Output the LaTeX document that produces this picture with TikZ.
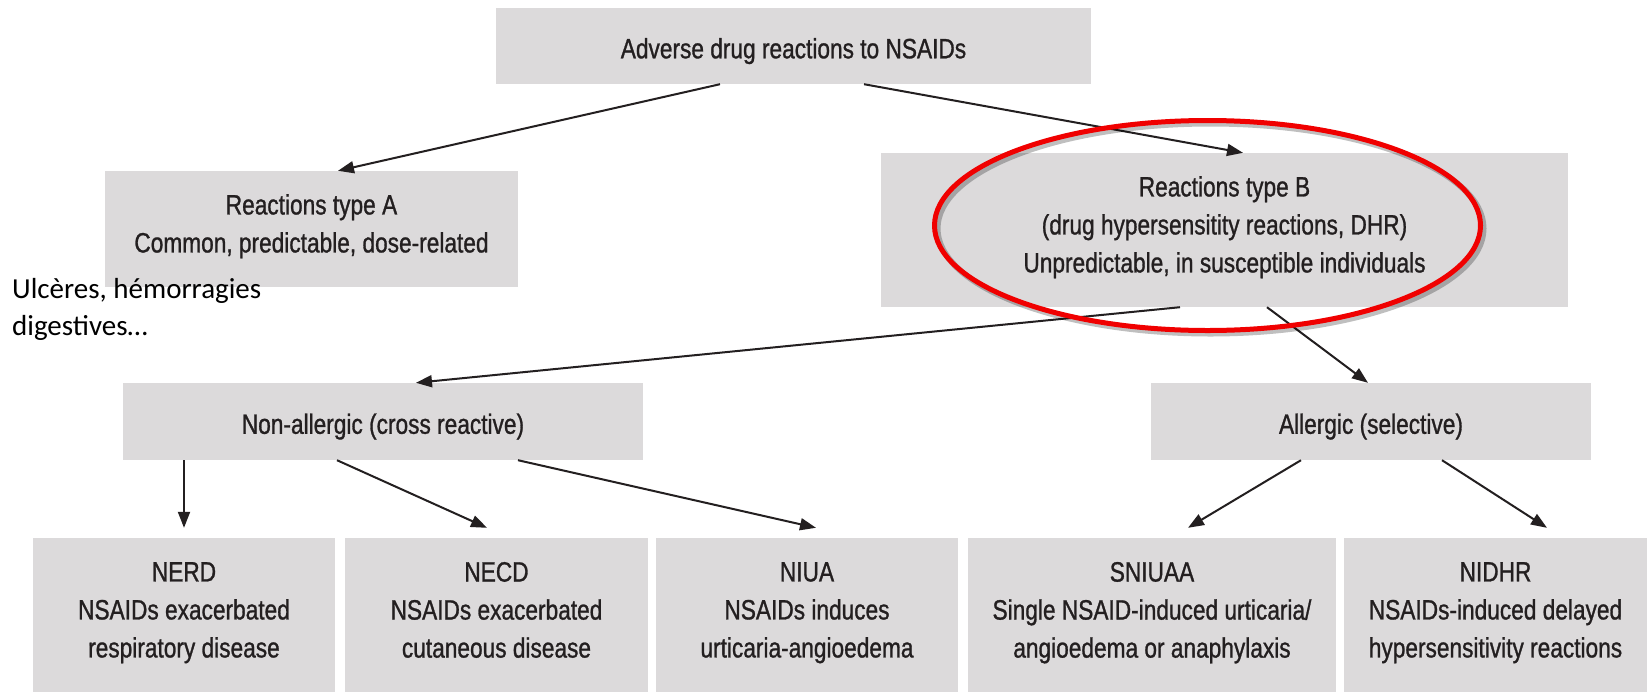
\documentclass[tikz,border=0pt]{standalone}
\usepackage{fontspec}
\setmainfont{Liberation Sans}
\newfontfamily\condfont[FakeStretch=0.81,FakeBold=1.0]{Liberation Sans}
\newfontfamily\califont{Carlito}
\usetikzlibrary{arrows.meta,calc}
\definecolor{boxgray}{RGB}{220,218,219}
\definecolor{ink}{RGB}{35,31,32}
\definecolor{ovalred}{RGB}{240,0,0}
\begin{document}
\begin{tikzpicture}[x=1pt,y=-1pt,
  box/.style={fill=boxgray, draw=none, inner sep=0pt, align=center, text=ink,
    font=\condfont\fontsize{28}{38}\selectfont,
    execute at begin node={\rule{0pt}{36pt}}, execute at end node=\strut},
  arr/.style={draw=ink, line width=2pt, -{Triangle[length=16pt,width=12pt]}},
  note/.style={font=\califont\fontsize{29}{37}\selectfont, align=left, inner sep=0pt, text=black}]
\useasboundingbox[fill=white] (0,0) rectangle (1651,691);
\clip (0,0) rectangle (1651,691);

% boxes
\node[box, minimum width=595pt, minimum height=76pt] (top) at (793.5,46) {Adverse drug reactions to NSAIDs};
\node[box, minimum width=413pt, minimum height=116pt] (A) at (311.5,229) {Reactions type A\\Common, predictable, dose-related};
\node[box, minimum width=687pt, minimum height=154pt] (B) at (1224.5,230) {Reactions type B\\(drug hypersensitity reactions, DHR)\\Unpredictable, in susceptible individuals};
\node[box, minimum width=520pt, minimum height=77pt] (NA) at (383,421.5) {Non-allergic (cross reactive)};
\node[box, minimum width=440pt, minimum height=77pt] (AL) at (1371,421.5) {Allergic (selective)};
\node[box, minimum width=302pt, minimum height=155pt] (NERD) at (184,615.5) {NERD\\NSAIDs exacerbated\\respiratory disease};
\node[box, minimum width=303pt, minimum height=155pt] (NECD) at (496.5,615.5) {NECD\\NSAIDs exacerbated\\cutaneous disease};
\node[box, minimum width=302pt, minimum height=155pt] (NIUA) at (807,615.5) {NIUA\\NSAIDs induces\\urticaria-angioedema};
\node[box, minimum width=368pt, minimum height=155pt] (SNIUAA) at (1152,615.5) {SNIUAA\\Single NSAID-induced urticaria/\\angioedema or anaphylaxis};
\node[box, minimum width=303pt, minimum height=155pt] (NIDHR) at (1495.5,615.5) {NIDHR\\NSAIDs-induced delayed\\hypersensitivity reactions};

% side note
\node[note, anchor=base west] (ulc) at (12,335) {Ulcères, hémorragies\\digestives…};

% connectors
\draw[arr] ([xshift=-73.5pt]top.south) -- ([xshift=26.5pt]A.north);
\draw[arr] ([xshift=70.5pt]top.south) -- ([xshift=18.5pt]B.north);
\draw[arr] ([xshift=-44.5pt]B.south) -- ([xshift=33pt]NA.north);
\draw[arr] ([xshift=42.5pt]B.south) -- ([xshift=-3pt]AL.north);
\draw[arr] ([xshift=-199pt]NA.south) -- ([yshift=10pt]NERD.north);
\draw[arr] ([xshift=-46pt]NA.south) -- ([xshift=-9.5pt,yshift=10pt]NECD.north);
\draw[arr] ([xshift=135pt]NA.south) -- ([xshift=9pt,yshift=10pt]NIUA.north);
\draw[arr] ([xshift=-70pt]AL.south) -- ([xshift=36pt,yshift=10pt]SNIUAA.north);
\draw[arr] ([xshift=71pt]AL.south) -- ([xshift=51.5pt,yshift=10pt]NIDHR.north);

% highlight oval
\draw[black, opacity=0.25, line width=6pt] ($(B.center)+(-14,-1.5)$) ellipse [x radius=273pt, y radius=105pt];
\draw[ovalred, line width=5pt] ($(B.center)+(-17,-4.5)$) ellipse [x radius=273pt, y radius=105pt];
\end{tikzpicture}
\end{document}
